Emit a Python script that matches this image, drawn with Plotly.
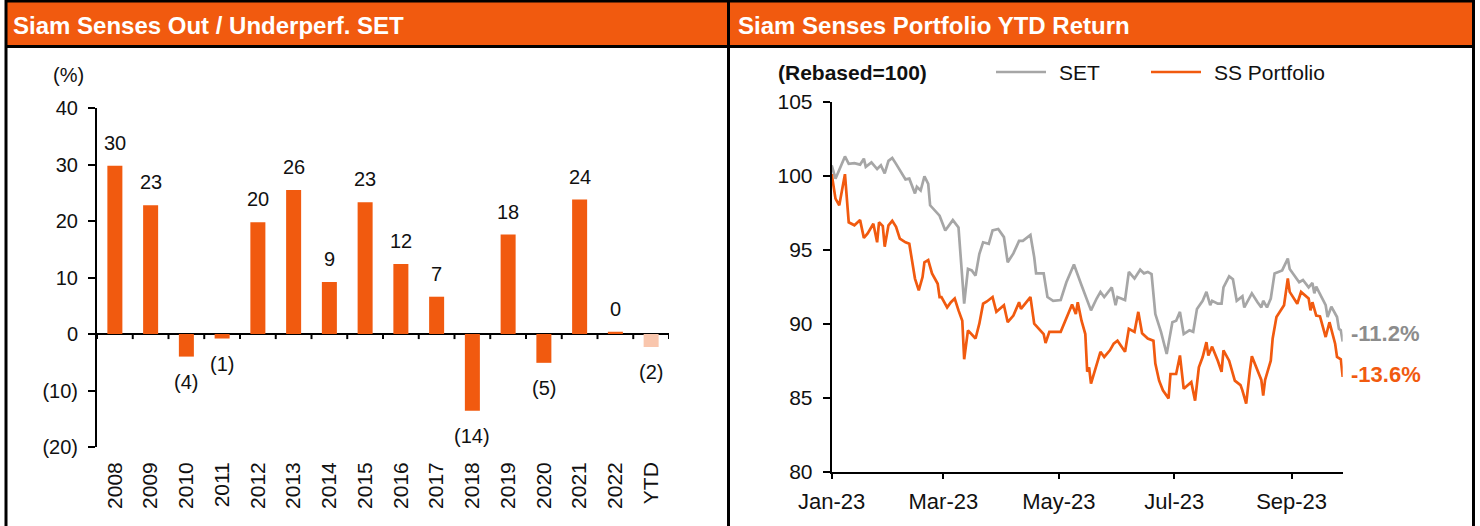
import plotly.graph_objects as go

# ---------------- data ----------------
years = ["2008", "2009", "2010", "2011", "2012", "2013", "2014", "2015",
         "2016", "2017", "2018", "2019", "2020", "2021", "2022", "YTD"]
outperf = [29.8, 22.8, -4.0, -0.8, 19.8, 25.5, 9.2, 23.3,
           12.4, 6.6, -13.6, 17.6, -5.1, 23.8, 0.4, -2.3]

set_dates = ["2023-01-01", "2023-01-03", "2023-01-08", "2023-01-10", "2023-01-13", "2023-01-16",
             "2023-01-18", "2023-01-19", "2023-01-22", "2023-01-25", "2023-01-27", "2023-01-29",
             "2023-01-31", "2023-02-02", "2023-02-04", "2023-02-07", "2023-02-09", "2023-02-11",
             "2023-02-14", "2023-02-15", "2023-02-17", "2023-02-19", "2023-02-21", "2023-02-22",
             "2023-02-27", "2023-03-02", "2023-03-06", "2023-03-09", "2023-03-10", "2023-03-12",
             "2023-03-14", "2023-03-16", "2023-03-18", "2023-03-20", "2023-03-22", "2023-03-25",
             "2023-03-27", "2023-03-30", "2023-04-02", "2023-04-04", "2023-04-07", "2023-04-10",
             "2023-04-12", "2023-04-16", "2023-04-18", "2023-04-19", "2023-04-23", "2023-04-24",
             "2023-04-25", "2023-04-28", "2023-05-02", "2023-05-05", "2023-05-09", "2023-05-13",
             "2023-05-16", "2023-05-18", "2023-05-21", "2023-05-23", "2023-05-25", "2023-05-29",
             "2023-05-31", "2023-06-01", "2023-06-05", "2023-06-07", "2023-06-10", "2023-06-13",
             "2023-06-15", "2023-06-17", "2023-06-19", "2023-06-21", "2023-06-24", "2023-06-27",
             "2023-06-30", "2023-07-02", "2023-07-04", "2023-07-06", "2023-07-09", "2023-07-11",
             "2023-07-13", "2023-07-16", "2023-07-18", "2023-07-20", "2023-07-21", "2023-07-24",
             "2023-07-26", "2023-07-27", "2023-07-30", "2023-08-01", "2023-08-03", "2023-08-06",
             "2023-08-07", "2023-08-11", "2023-08-14", "2023-08-16", "2023-08-17", "2023-08-19",
             "2023-08-21", "2023-08-22", "2023-08-23", "2023-08-27", "2023-08-30", "2023-08-31",
             "2023-09-05", "2023-09-07", "2023-09-10", "2023-09-12", "2023-09-13", "2023-09-14",
             "2023-09-17", "2023-09-19", "2023-09-20", "2023-09-22", "2023-09-25", "2023-09-26",
             "2023-09-27", "2023-09-28"]
set_values = [100.7, 99.8, 101.3, 100.8, 100.85, 100.75,
              101.15, 100.6, 100.9, 100.45, 100.7, 100.15,
              101.0, 101.2, 100.8, 100.15, 99.75, 99.8,
              98.8, 99.25, 99.0, 99.95, 99.45, 98.0,
              97.3, 96.3, 97.0, 96.5, 94.95, 91.35,
              93.7, 93.6, 93.25, 94.7, 95.5, 95.4,
              96.3, 96.4, 95.85, 94.15, 94.75, 95.6,
              95.6, 96.0, 94.5, 93.4, 93.4, 92.5,
              91.8, 91.55, 91.6, 92.8, 94.0, 92.6,
              91.55, 90.9, 91.7, 92.15, 91.8, 92.45,
              91.25, 91.8, 91.6, 93.5, 93.05, 93.65,
              93.4, 93.5, 93.35, 90.65, 89.45, 87.95,
              90.1, 90.2, 90.8, 89.3, 89.55, 89.45,
              91.0, 91.55, 92.15, 91.25, 91.55, 91.35,
              91.35, 92.45, 93.2, 93.0, 91.55, 91.85,
              91.1, 92.05, 91.45, 91.1, 91.55, 91.1,
              91.7, 92.6, 93.4, 93.6, 94.4, 93.7,
              92.8, 92.95, 92.45, 92.75, 92.05, 92.5,
              91.8, 91.25, 90.45, 91.15, 90.45, 89.65,
              89.55, 88.8]

ss_dates = ["2023-01-01", "2023-01-03", "2023-01-05", "2023-01-08", "2023-01-10", "2023-01-13",
            "2023-01-16", "2023-01-18", "2023-01-20", "2023-01-23", "2023-01-25", "2023-01-26",
            "2023-01-28", "2023-01-29", "2023-01-31", "2023-02-02", "2023-02-04", "2023-02-06",
            "2023-02-09", "2023-02-11", "2023-02-14", "2023-02-16", "2023-02-18", "2023-02-19",
            "2023-02-21", "2023-02-23", "2023-02-26", "2023-02-27", "2023-02-28", "2023-03-03",
            "2023-03-05", "2023-03-07", "2023-03-09", "2023-03-11", "2023-03-12", "2023-03-14",
            "2023-03-18", "2023-03-20", "2023-03-22", "2023-03-24", "2023-03-27", "2023-03-29",
            "2023-04-02", "2023-04-04", "2023-04-07", "2023-04-10", "2023-04-11", "2023-04-16",
            "2023-04-18", "2023-04-20", "2023-04-23", "2023-04-24", "2023-04-26", "2023-05-02",
            "2023-05-05", "2023-05-08", "2023-05-10", "2023-05-11", "2023-05-13", "2023-05-15",
            "2023-05-16", "2023-05-17", "2023-05-18", "2023-05-20", "2023-05-23", "2023-05-25",
            "2023-05-28", "2023-05-30", "2023-06-01", "2023-06-05", "2023-06-07", "2023-06-10",
            "2023-06-12", "2023-06-14", "2023-06-17", "2023-06-20", "2023-06-21", "2023-06-23",
            "2023-06-25", "2023-06-28", "2023-06-29", "2023-07-02", "2023-07-04", "2023-07-06",
            "2023-07-10", "2023-07-12", "2023-07-14", "2023-07-16", "2023-07-18", "2023-07-19",
            "2023-07-21", "2023-07-24", "2023-07-26", "2023-07-27", "2023-07-30", "2023-08-02",
            "2023-08-05", "2023-08-06", "2023-08-08", "2023-08-10", "2023-08-11", "2023-08-16",
            "2023-08-17", "2023-08-18", "2023-08-21", "2023-08-22", "2023-08-24", "2023-08-28",
            "2023-08-29", "2023-08-30", "2023-08-31", "2023-09-04", "2023-09-06", "2023-09-10",
            "2023-09-11", "2023-09-12", "2023-09-14", "2023-09-16", "2023-09-19", "2023-09-21",
            "2023-09-24", "2023-09-25", "2023-09-27", "2023-09-28"]
ss_values = [100.1, 98.45, 98.0, 100.1, 96.85, 96.65,
             97.0, 95.8, 96.1, 96.75, 95.5, 96.85,
             96.6, 95.2, 96.65, 96.95, 96.55, 95.75,
             95.5, 95.4, 93.05, 92.25, 93.15, 94.15,
             94.3, 93.4, 92.7, 91.8, 91.8, 91.1,
             91.45, 91.7, 90.9, 90.2, 87.6, 89.55,
             89.0, 90.0, 91.35, 91.5, 91.8, 90.8,
             91.25, 90.1, 90.55, 91.45, 91.0, 91.8,
             90.0, 89.7, 89.3, 88.7, 89.45, 89.45,
             90.35, 91.3, 90.65, 91.45, 90.2, 89.3,
             86.75, 87.05, 85.95, 86.85, 88.1, 87.75,
             88.2, 88.65, 88.85, 88.1, 89.65, 89.45,
             90.8, 89.35, 89.0, 88.85, 87.3, 86.15,
             85.5, 84.95, 86.6, 86.6, 87.85, 85.6,
             86.05, 84.8, 87.05, 87.75, 88.75, 87.85,
             88.45, 87.5, 86.75, 88.2, 87.5, 86.15,
             85.85, 85.5, 84.6, 86.85, 87.8, 86.2,
             85.15, 86.2, 87.5, 89.0, 90.45, 91.25,
             92.25, 93.05, 92.15, 91.35, 92.15, 91.7,
             90.9, 91.45, 90.55, 90.5, 89.1, 90.1,
             88.65, 87.75, 87.6, 86.4]

left_ticks = [-20, -10, 0, 10, 20, 30, 40]
right_ticks = [80, 85, 90, 95, 100, 105]
set_label = "-11.2%"
ss_label = "-13.6%"

# ---------------- styling ----------------
W, H = 1480, 526
ORANGE = "#F15A0F"
BAR_ORANGE = "#F15A0F"
YTD_COLOR = "#F9C6AD"
GREY = "#A6A6A6"
FONT = "Liberation Sans, Arial, sans-serif"
TXT = "#111111"


def px(x):
    return x / W


def py(y):
    return 1 - y / H


def paren(v):
    r = int(round(abs(v)))
    return f"({r})" if v < 0 and r != 0 else f"{r}"


fig = go.Figure()

bar_colors = [YTD_COLOR if y == "YTD" else BAR_ORANGE for y in years]
fig.add_trace(go.Bar(x=years, y=outperf, marker=dict(color=bar_colors, line=dict(width=0)),
                     width=0.42, xaxis="x", yaxis="y", showlegend=False, hoverinfo="skip"))

fig.add_trace(go.Scatter(x=set_dates, y=set_values, mode="lines", name="SET",
                         line=dict(color=GREY, width=2.7), xaxis="x2", yaxis="y2",
                         showlegend=False))
fig.add_trace(go.Scatter(x=ss_dates, y=ss_values, mode="lines", name="SS Portfolio",
                         line=dict(color=ORANGE, width=2.7), xaxis="x2", yaxis="y2",
                         showlegend=False))

annotations = []
# bar value labels (category index positions)
for i, v in enumerate(outperf):
    if v >= 0:
        annotations.append(dict(x=i, y=v, xref="x", yref="y", text=paren(v),
                                showarrow=False, yanchor="bottom", yshift=10,
                                font=dict(size=20, color=TXT, family=FONT)))
    else:
        annotations.append(dict(x=i, y=v, xref="x", yref="y", text=paren(v),
                                showarrow=False, yanchor="top", yshift=-12,
                                font=dict(size=20, color=TXT, family=FONT)))

# end labels
annotations.append(dict(x=set_dates[-1], y=set_values[-1], xref="x2", yref="y2", text=f"<b>{set_label}</b>",
                        showarrow=False, xanchor="left", xshift=6, yshift=8,
                        font=dict(size=22, color="#8C8C8C", family=FONT)))
annotations.append(dict(x=ss_dates[-1], y=ss_values[-1], xref="x2", yref="y2", text=f"<b>{ss_label}</b>",
                        showarrow=False, xanchor="left", xshift=6, yshift=2,
                        font=dict(size=22, color=ORANGE, family=FONT)))

# titles
annotations.append(dict(x=px(11), y=py(25), xref="paper", yref="paper", xanchor="left", yanchor="middle",
                        text="<b>Siam Senses Out / Underperf. SET</b>", showarrow=False,
                        font=dict(size=24, color="white", family=FONT)))
annotations.append(dict(x=px(736), y=py(25), xref="paper", yref="paper", xanchor="left", yanchor="middle",
                        text="<b>Siam Senses Portfolio YTD Return</b>", showarrow=False,
                        font=dict(size=24, color="white", family=FONT)))
# unit labels
annotations.append(dict(x=px(68), y=py(75), xref="paper", yref="paper", xanchor="center", yanchor="middle",
                        text="(%)", showarrow=False, font=dict(size=20, color=TXT, family=FONT)))
annotations.append(dict(x=px(776), y=py(72), xref="paper", yref="paper", xanchor="left", yanchor="middle",
                        text="<b>(Rebased=100)</b>", showarrow=False,
                        font=dict(size=21, color=TXT, family=FONT)))
# legend texts
annotations.append(dict(x=px(1057), y=py(72), xref="paper", yref="paper", xanchor="left", yanchor="middle",
                        text="SET", showarrow=False, font=dict(size=21, color=TXT, family=FONT)))
annotations.append(dict(x=px(1212), y=py(72), xref="paper", yref="paper", xanchor="left", yanchor="middle",
                        text="SS Portfolio", showarrow=False, font=dict(size=21, color=TXT, family=FONT)))

shapes = []
# header bands
shapes.append(dict(type="rect", xref="paper", yref="paper", x0=px(6), x1=px(728), y0=py(45), y1=py(2),
                   fillcolor=ORANGE, line=dict(width=0), layer="below"))
shapes.append(dict(type="rect", xref="paper", yref="paper", x0=px(729), x1=px(1473), y0=py(45), y1=py(2),
                   fillcolor=ORANGE, line=dict(width=0), layer="below"))
# frame lines
for (x0, y0, x1, y1) in [(5, 1, 1475, 1), (5, 46.5, 1475, 46.5)]:
    shapes.append(dict(type="line", xref="paper", yref="paper", x0=px(x0), x1=px(x1), y0=py(y0), y1=py(y1),
                       line=dict(color="black", width=3)))
for xv in [6, 728.5, 1473.5]:
    shapes.append(dict(type="line", xref="paper", yref="paper", x0=px(xv), x1=px(xv), y0=py(0), y1=py(H),
                       line=dict(color="black", width=3)))
# legend line samples
shapes.append(dict(type="line", xref="paper", yref="paper", x0=px(996), x1=px(1046), y0=py(72), y1=py(72),
                   line=dict(color=GREY, width=2.7)))
shapes.append(dict(type="line", xref="paper", yref="paper", x0=px(1151), x1=px(1201), y0=py(72), y1=py(72),
                   line=dict(color=ORANGE, width=2.7)))
# category boundary ticks on the zero line
for i in range(len(years) + 1):
    shapes.append(dict(type="line", xref="x", yref="y", x0=i - 0.5, x1=i - 0.5, y0=0, y1=-0.9,
                       line=dict(color="black", width=2)))

fig.update_layout(
    width=W, height=H, autosize=False,
    margin=dict(l=0, r=0, t=0, b=0, pad=0, autoexpand=False),
    paper_bgcolor="white", plot_bgcolor="rgba(0,0,0,0)",
    font=dict(family=FONT, size=20, color=TXT),
    showlegend=False,
    bargap=0.5,
    xaxis=dict(domain=[px(97), px(669)], anchor="y", type="category", categoryorder="array",
               categoryarray=years, range=[-0.5, len(years) - 0.5], showline=False, ticks="",
               tickangle=-90, showgrid=False, zeroline=False, ticklabelstandoff=10, automargin=False,
               tickfont=dict(size=21, family=FONT, color=TXT)),
    yaxis=dict(domain=[py(447), py(108)], anchor="x", range=[-20, 40], tickvals=left_ticks,
               ticktext=[paren(v) for v in left_ticks], showline=True, linecolor="black", linewidth=2,
               ticks="outside", ticklen=7, tickwidth=2, tickcolor="black", showgrid=False,
               zeroline=True, zerolinecolor="black", zerolinewidth=2, ticklabelstandoff=6,
               automargin=False, tickfont=dict(size=20, family=FONT, color=TXT)),
    xaxis2=dict(domain=[px(831.7), px(1342.7)], anchor="y2", type="date",
                range=["2023-01-01", "2023-09-28"], tick0="2023-01-01", dtick="M2", tickformat="%b-%y",
                showline=True, linecolor="black", linewidth=2, ticks="outside", ticklen=5, tickwidth=2,
                tickcolor="black", showgrid=False, zeroline=False, ticklabelstandoff=4, automargin=False,
                tickfont=dict(size=22, family=FONT, color=TXT)),
    yaxis2=dict(domain=[py(471.7), py(101.7)], anchor="x2", range=[80, 105], tickvals=right_ticks,
                showline=True, linecolor="black", linewidth=2, ticks="outside", ticklen=7, tickwidth=2,
                tickcolor="black", showgrid=False, zeroline=False, ticklabelstandoff=6, automargin=False,
                tickfont=dict(size=21, family=FONT, color=TXT)),
    annotations=annotations,
    shapes=shapes,
)

fig.write_html("out.html", config={"displayModeBar": False, "staticPlot": True},
               post_script="document.body.style.margin='0';document.body.style.overflow='hidden';")
